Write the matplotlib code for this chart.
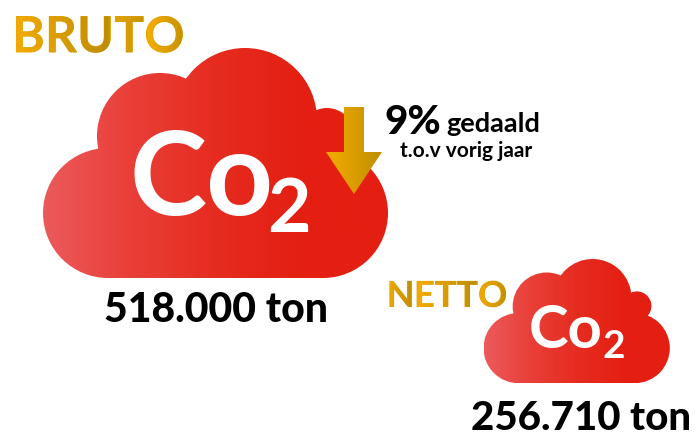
import numpy as np
import matplotlib
matplotlib.use("Agg")
import matplotlib.pyplot as plt
from matplotlib.colors import LinearSegmentedColormap
from matplotlib.font_manager import FontProperties
from matplotlib.path import Path
from matplotlib.patches import PathPatch
from matplotlib.textpath import TextPath
from matplotlib.transforms import Affine2D

labels = ["BRUTO", "NETTO"]
tons = [518000, 256710]
change_pct = 9
change_word = "gedaald"
change_note = "t.o.v vorig jaar"

FONT = "Lato"
PX = 100 / 72.0

red = LinearSegmentedColormap.from_list("red", ["#ec5a5c", "#e93f38", "#e62c20", "#e41f12", "#e41f12"])
gold = LinearSegmentedColormap.from_list("gold", ["#f6ac00", "#be8e00"])

fig = plt.figure(figsize=(6.95, 4.41), dpi=100)
ax = fig.add_axes([0, 0, 1, 1])
ax.set_xlim(0, 695)
ax.set_ylim(441, 0)
ax.axis("off")


def gradient(cmap, x0, x1, y0, y1, clip, stops=None):
    g = np.linspace(0, 1, 256).reshape(1, -1)
    if stops is not None:
        xs = np.linspace(x0, x1, 700)
        g = np.interp(xs, stops[0], stops[1]).reshape(1, -1)
    im = ax.imshow(g, cmap=cmap, vmin=0, vmax=1, extent=(x0, x1, y1, y0), aspect="auto", interpolation="bilinear")
    im.set_clip_path(clip)
    ax.set_xlim(0, 695)
    ax.set_ylim(441, 0)


def cloud(x, y, s):
    # lobes measured on the big cloud, x/y = top left corner
    lobes = [(65, 165, 65), (117, 88, 63), (202, 72, 72), (284, 87, 27), (280, 165, 65)]
    verts, codes = [], []
    for cx, cy, r in lobes:
        c = Path.circle((x + cx * s, y + cy * s), r * s)
        verts += list(c.vertices)
        codes += list(c.codes)
    box = [(65, 90), (280, 90), (280, 230), (65, 230), (65, 90)]
    verts += [(x + a * s, y + b * s) for a, b in box]
    codes += [Path.MOVETO, Path.LINETO, Path.LINETO, Path.LINETO, Path.CLOSEPOLY]
    p = PathPatch(Path(verts, codes), transform=ax.transData, fc="none", ec="none")
    ax.add_patch(p)
    gradient(red, x, x + 345 * s, y, y + 230 * s, p)


def gold_word(word, x, y, size, stops):
    # real text below, the gradient on top of it
    ax.text(x, y, word, fontsize=size, family=FONT, weight="bold", color="#d9a000", va="baseline", ha="left", zorder=-1)
    fp = FontProperties(family=FONT, weight="bold")
    tp = TextPath((0, 0), word, size=size, prop=fp)
    p = PathPatch(tp, transform=Affine2D().scale(PX, -PX).translate(x, y) + ax.transData, fc="none", ec="none")
    ax.add_patch(p)
    gradient(gold, stops[0][0], stops[0][-1], y - size * 1.2, y + 4, p, stops)


def black(x, y, s, size, weight="bold", ha="left"):
    ax.text(x, y, s, fontsize=size, family=FONT, weight=weight, color="black", va="baseline", ha=ha)


def white(x, y, s, size):
    ax.text(x, y, s, fontsize=size, family=FONT, weight="bold", color="white", va="baseline", ha="left")


def ton_text(v):
    return f"{v:,}".replace(",", ".") + " ton"


cloud(43, 48, 1.0)
cloud(483.5, 259, 0.54)

white(129, 215, "Co", 84)
white(267, 232, "2", 54)
white(529, 348, "Co", 43)
white(603, 358, "2", 28)

# arrow
arrow = PathPatch(Path([(344, 107), (364, 107), (364, 152), (382, 152), (354, 194), (326, 152), (344, 152), (344, 107)], closed=True),
                  transform=ax.transData, fc="none", ec="none")
ax.add_patch(arrow)
gradient(gold, 326, 382, 107, 194, arrow)

gold_word(labels[0], 12, 52.5, 36, ([9, 108, 112, 145, 148, 190], [0, 1, 0.3, 0.8, 0, 1]))
gold_word(labels[1], 386.5, 307, 26, ([384, 412, 415, 476, 478, 506], [0, 1, 0, 1, 0, 0.9]))

black(385, 134, f"{change_pct}%", 29, "black")
black(446, 132, change_word, 19.5)
black(400, 157, change_note, 15)
black(104, 322, ton_text(tons[0]), 29.5, "black")
black(471, 430, ton_text(tons[1]), 29, "black")

fig.savefig("out.png", dpi=100, facecolor="white")
